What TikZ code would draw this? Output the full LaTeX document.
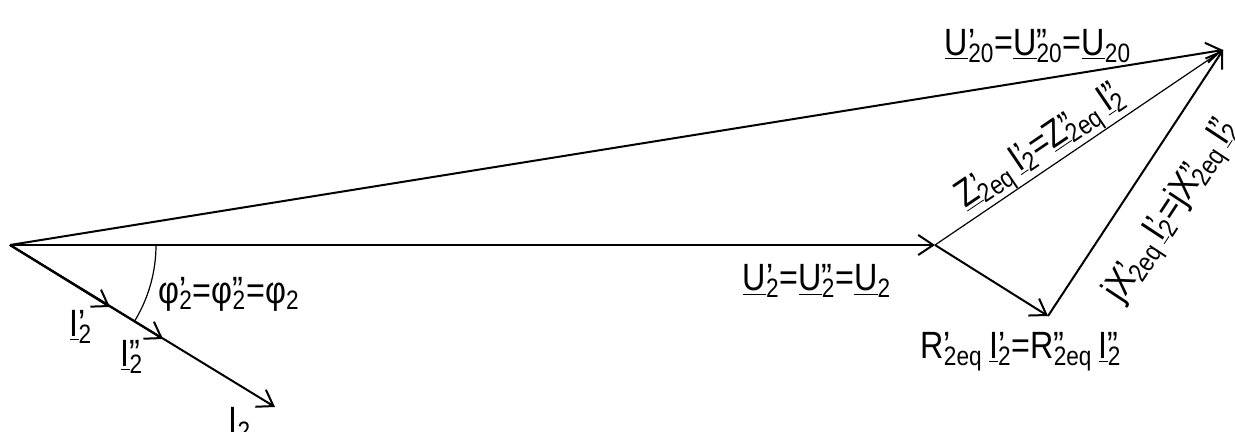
\documentclass[tikz,border=0pt]{standalone}
\usepackage{fontspec}
\setmainfont{Liberation Sans}[FakeStretch=0.85]
\usetikzlibrary{arrows.meta}

\newcommand\ul[1]{\underline{#1}}
\newcommand\sps[2]{\rlap{#1}\textsubscript{#2}}

\begin{document}
\begin{tikzpicture}[
        x=0.5pt, y=-0.5pt,
        font=\fontsize{19}{22}\selectfont,
        >={Straight Barb[length=7.5pt,width=10pt]},
        phasor/.style={->, line width=1pt},
        thinline/.style={line width=0.6pt},
        lbl/.style={inner sep=1pt}
    ]
        \useasboundingbox (0,0) rectangle (1235,432);

        \coordinate (O)   at (10,245);
        \coordinate (U2)  at (935,245);
        \coordinate (RI)  at (1048,316);
        \coordinate (U20) at (1223,50);
        \coordinate (I2a) at (110,307);
        \coordinate (I2b) at (163,339);
        \coordinate (I2)  at (275,407);

        \draw[phasor] (O) -- (U20);
        \draw[phasor] (O) -- (U2);
        \draw[phasor] (U2) -- (RI);
        \draw[phasor] (RI) -- node[lbl, sloped, below=12pt, pos=0.49] {jX\sps{’}{2eq}\,\ul{I}\sps{’}{2}=jX\sps{”}{2eq}\,\ul{I}\sps{”}{2}} (U20);
        \draw[thinline] (U2) -- node[sloped, above, inner sep=0pt, pos=0.41] {\ul{Z}\sps{’}{2eq}\,\ul{I}\sps{’}{2}=\ul{Z}\sps{”}{2eq}\,\ul{I}\sps{”}{2}} (U20);
        \draw[phasor] (O) -- (I2);
        \draw[phasor] (O) -- (I2b);
        \draw[phasor] (O) -- (I2a);
        \draw[thinline] (O) ++(146,0) arc[start angle=0, end angle=31.4, radius=146];

        \node[lbl] (lphi) at (229,294) {φ\sps{’}{2}=φ\sps{”}{2}=φ\textsubscript{2}};
        \node[lbl] (lI2a) at (81,327)  {\ul{I}\sps{’}{2}};
        \node[lbl] (lI2b) at (132,357) {\ul{I}\sps{”}{2}};
        \node[lbl] (lI2)  at (240,424) {\ul{I}\textsubscript{2}};
        \node[lbl] (lU2)  at (817,281) {\ul{U}\sps{’}{2}=\ul{U}\sps{”}{2}=\ul{U}\textsubscript{2}};
        \node[lbl] (lR)   at (1021,352) {R\sps{’}{2eq}\,\ul{I}\sps{’}{2}=R\sps{”}{2eq}\,\ul{I}\sps{”}{2}};
        \node[lbl] (lU20) at (1038,46) {\ul{U}\sps{’}{20}=\ul{U}\sps{”}{20}=\ul{U}\textsubscript{20}};
    \end{tikzpicture}
\end{document}
